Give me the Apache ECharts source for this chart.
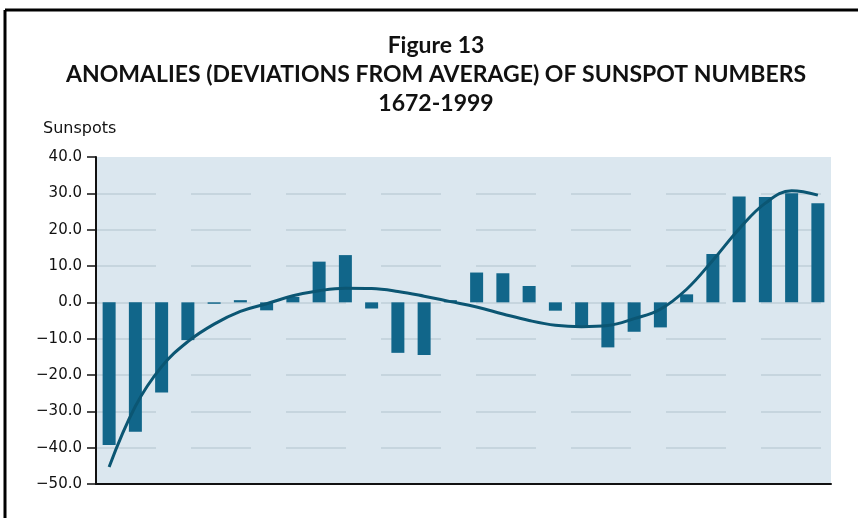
<!DOCTYPE html>
<html lang="en">
<head>
<meta charset="UTF-8">
<title>Figure 13 - Sunspot anomalies</title>
<script src="https://cdn.jsdelivr.net/npm/echarts@6/dist/echarts.min.js"></script>
<style>
  * { margin: 0; padding: 0; box-sizing: border-box; }
  body { background: #fff; }
  #chart { width: 858px; height: 518px; }
</style>
</head>
<body>
<div id="chart"></div>
<script>
  // 28 periods of roughly 11.7 years, 1672-1999 (no x labels in the original)
  const periods = ['1', '2', '3', '4', '5', '6', '7', '8', '9', '10', '11', '12', '13', '14',
    '15', '16', '17', '18', '19', '20', '21', '22', '23', '24', '25', '26', '27', '28'];

  // anomaly of sunspot number per period
  const anomalies = [-39.3, -35.6, -24.8, -10.4, -0.4, 0.6, -2.2, 1.5, 11.2, 13.0, -1.7, -13.9, -14.5, 0.6,
    8.2, 8.0, 4.5, -2.3, -6.5, -12.4, -8.1, -6.9, 2.2, 13.3, 29.1, 29.0, 30.0, 27.3];

  // polynomial trend curve, read at each bar centre
  const trend = [-45.3, -28.6, -17.7, -10.8, -6.0, -2.5, -0.4, 1.8, 3.2, 3.9, 3.8, 3.0, 1.7, 0.2,
    -1.3, -3.2, -5.0, -6.3, -6.7, -6.4, -4.5, -1.9, 3.6, 11.6, 20.2, 27.3, 30.7, 29.5];

  const yMin = -50;
  const yMax = 40;
  const yStep = 10;

  const titleLines = [
    'Figure 13',
    'ANOMALIES (DEVIATIONS FROM AVERAGE) OF SUNSPOT NUMBERS',
    '1672-1999'
  ];

  const chart = echarts.init(document.getElementById('chart'));

  const titleFont = { fontFamily: 'Lato', fontWeight: 'bold', fontSize: 23, fill: '#111' };

  const option = {
    animation: false,
    grid: {
      left: 96,
      right: 27,
      top: 157,
      bottom: 34,
      show: true,
      backgroundColor: '#dbe7ef',
      borderWidth: 0
    },
    xAxis: {
      type: 'category',
      data: periods,
      boundaryGap: true,
      axisLine: { onZero: false, lineStyle: { color: '#111', width: 2 } },
      axisTick: { show: false },
      axisLabel: { show: false },
      splitLine: { show: false }
    },
    yAxis: {
      type: 'value',
      min: yMin,
      max: yMax,
      interval: yStep,
      axisLine: { show: true, lineStyle: { color: '#111', width: 2 } },
      axisTick: { show: true, length: 9, lineStyle: { color: '#111', width: 1.5 } },
      axisLabel: {
        color: '#111',
        fontFamily: 'DejaVu Sans',
        fontSize: 15,
        margin: 14,
        formatter: v => (v < 0 ? '\u2212' : '') + Math.abs(v).toFixed(1)
      },
      splitLine: {
        show: true,
        showMaxLine: false,
        lineStyle: { color: '#c0cfd9', width: 1.5, type: [60, 35] }
      }
    },
    series: [
      {
        name: 'Anomaly',
        type: 'bar',
        data: anomalies,
        barWidth: 13,
        itemStyle: { color: '#11668a' }
      },
      {
        name: 'Trend',
        type: 'line',
        data: trend,
        smooth: 0.4,
        symbol: 'none',
        lineStyle: { color: '#0b5673', width: 3 },
        z: 5
      }
    ],
    graphic: [
      // frame (top and left edges only, as in the scan)
      { type: 'line', shape: { x1: 5, y1: 10, x2: 858, y2: 10 }, style: { stroke: '#000', lineWidth: 3 } },
      { type: 'line', shape: { x1: 5, y1: 10, x2: 5, y2: 518 }, style: { stroke: '#000', lineWidth: 3 } },
      { type: 'text', x: 436, y: 46, style: Object.assign({ text: titleLines[0], textAlign: 'center', textVerticalAlign: 'middle' }, titleFont) },
      { type: 'text', x: 436, y: 75, style: Object.assign({ text: titleLines[1], textAlign: 'center', textVerticalAlign: 'middle' }, titleFont) },
      { type: 'text', x: 436, y: 104, style: Object.assign({ text: titleLines[2], textAlign: 'center', textVerticalAlign: 'middle' }, titleFont) },
      {
        type: 'text', x: 43, y: 129,
        style: { text: 'Sunspots', fontFamily: 'DejaVu Sans', fontSize: 16, fill: '#111', textVerticalAlign: 'middle' }
      }
    ]
  };

  chart.setOption(option);
</script>
</body>
</html>
